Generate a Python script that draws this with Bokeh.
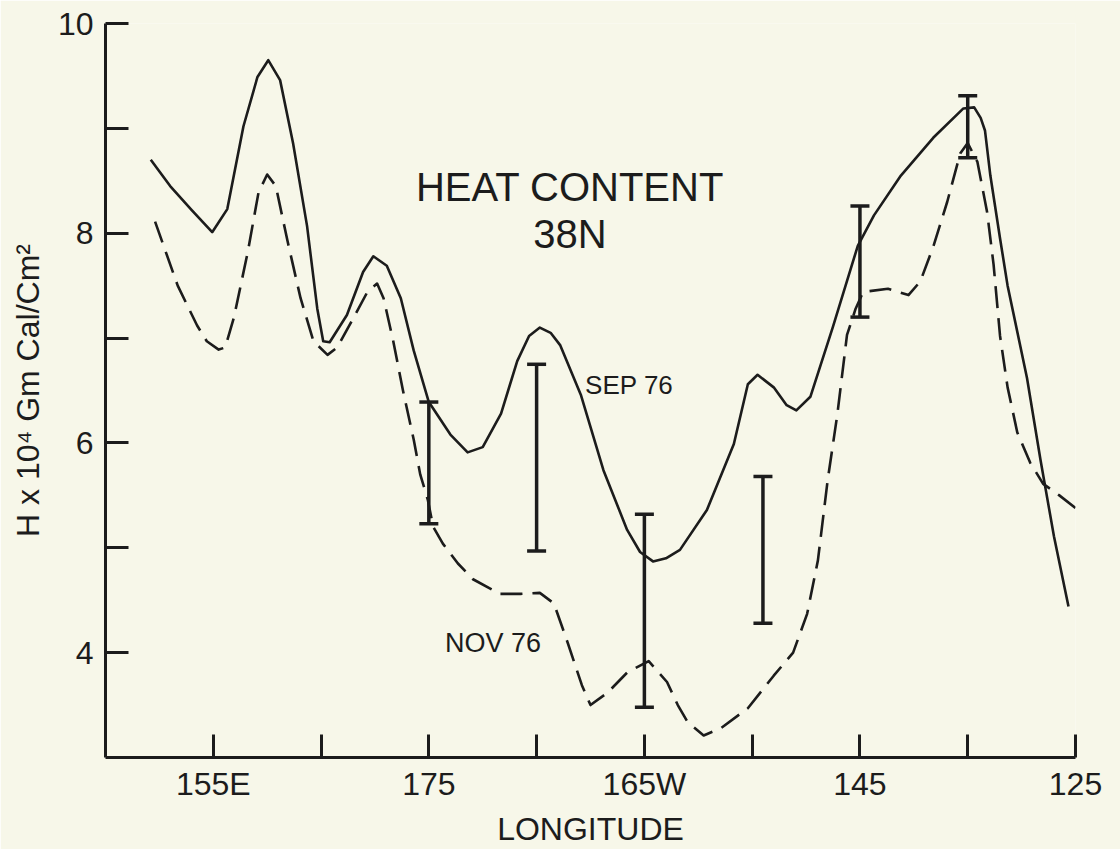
from bokeh.plotting import figure
from bokeh.models import Range1d, FixedTicker, Whisker, TeeHead, ColumnDataSource, Label
from bokeh.embed import file_html
from bokeh.resources import INLINE

# ---- data (longitude in degrees east, 180+ = west) ----
sep_lon = [149.2, 151.0, 153.0, 154.9, 156.3, 157.8, 159.1, 160.1, 161.2, 162.4, 163.7, 164.65,
           165.2, 165.8, 167.4, 168.9, 169.85, 171.1, 172.4, 173.6, 175.0, 177.0, 178.6, 180.0,
           181.7, 183.2, 184.3, 185.3, 186.3, 187.2, 189.1, 191.2, 193.4, 194.6, 195.8, 197.0,
           198.3, 200.8, 203.3, 204.6, 205.5, 207.0, 208.2, 209.1, 210.4, 212.5, 214.8, 216.3,
           218.8, 221.8, 224.6, 225.6, 226.2, 226.6, 227.1, 228.0, 228.7, 230.5, 231.75, 233.0, 234.35]
sep_val = [8.70, 8.45, 8.22, 8.01, 8.23, 9.02, 9.49, 9.65, 9.46, 8.86, 8.07, 7.28,
           6.97, 6.96, 7.22, 7.63, 7.78, 7.69, 7.38, 6.88, 6.39, 6.08, 5.91, 5.96,
           6.28, 6.78, 7.02, 7.10, 7.05, 6.93, 6.46, 5.74, 5.17, 4.96, 4.87, 4.90,
           4.98, 5.36, 5.99, 6.56, 6.65, 6.53, 6.36, 6.31, 6.44, 7.11, 7.88, 8.17,
           8.55, 8.91, 9.19, 9.20, 9.10, 8.98, 8.55, 7.95, 7.50, 6.62, 5.84, 5.11, 4.44]

nov_lon = [149.6, 151.7, 153.5, 154.4, 155.5, 156.1, 156.9, 158.2, 159.2, 160.0, 160.8, 161.9,
           163.1, 164.3, 165.6, 166.5, 168.0, 169.3, 170.2, 170.8, 171.7, 172.6, 173.6, 174.2,
           174.9, 175.4, 176.3, 177.7, 179.1, 181.6, 183.5, 185.3, 186.6, 187.9, 189.2, 190.0,
           191.6, 193.4, 195.4, 197.1, 198.1, 199.0, 200.5, 202.1, 204.6, 207.0, 208.8, 210.1,
           211.1, 212.0, 212.9, 213.8, 214.6, 215.3, 217.6, 219.5, 220.6, 221.8, 223.1, 224.3,
           225.0, 225.9, 226.8, 227.4, 228.0, 228.7, 229.6, 230.8, 232.0, 233.5, 235.0]
nov_val = [8.11, 7.50, 7.12, 6.97, 6.89, 6.91, 7.19, 7.82, 8.39, 8.56, 8.45, 7.92,
           7.38, 6.97, 6.84, 6.91, 7.19, 7.44, 7.52, 7.38, 6.97, 6.50, 6.03, 5.70,
           5.46, 5.20, 5.04, 4.85, 4.70, 4.56, 4.56, 4.57, 4.47, 4.09, 3.69, 3.50,
           3.62, 3.81, 3.92, 3.72, 3.50, 3.34, 3.21, 3.28, 3.47, 3.78, 4.00, 4.37,
           4.88, 5.64, 6.27, 7.03, 7.28, 7.44, 7.47, 7.41, 7.54, 7.87, 8.30, 8.76,
           8.86, 8.68, 8.20, 7.70, 7.02, 6.53, 6.10, 5.81, 5.61, 5.50, 5.38]

bar_lon = [175, 185, 195, 206, 215, 225]
bar_hi = [6.39, 6.75, 5.32, 5.68, 8.26, 9.31]
bar_lo = [5.23, 4.97, 3.48, 4.28, 7.20, 8.72]

x_tick_values = [155, 165, 175, 185, 195, 205, 215, 225, 235]
x_tick_labels = ["155E", "", "175", "", "165W", "", "145", "", "125"]
y_tick_values = [4, 5, 6, 7, 8, 9, 10]
y_tick_labels = ["4", "", "6", "", "8", "", "10"]

title_lines = ["HEAT CONTENT", "38N"]
series_names = ["SEP 76", "NOV 76"]
x_label = "LONGITUDE"
y_label = "H x 10\u2074 Gm Cal/Cm\u00b2"

# ---- style ----
ink = "#1c1c1c"
paper = "#f7f7e9"
font = "Liberation Sans"

p = figure(width=1120, height=849, x_range=Range1d(145, 235), y_range=Range1d(3, 10),
           output_backend="svg", toolbar_location=None,
           min_border_left=105, min_border_right=45, min_border_top=23, min_border_bottom=89)
p.background_fill_color = paper
p.border_fill_color = paper
p.outline_line_color = None
p.grid.visible = False

for ax in (p.xaxis[0], p.yaxis[0]):
    ax.axis_line_color = ink
    ax.axis_line_width = 3
    ax.major_tick_line_color = ink
    ax.major_tick_line_width = 3
    ax.major_tick_in = 23
    ax.major_tick_out = 0
    ax.minor_tick_line_color = None
    ax.major_label_text_color = ink
    ax.major_label_text_font = font
    ax.major_label_text_font_size = "32px"
    ax.axis_label_text_color = ink
    ax.axis_label_text_font = font
    ax.axis_label_text_font_style = "normal"

p.xaxis.ticker = FixedTicker(ticks=x_tick_values)
p.xaxis.major_label_overrides = {v: s for v, s in zip(x_tick_values, x_tick_labels)}
p.xaxis.major_label_standoff = 8
p.xaxis.axis_label = x_label
p.xaxis.axis_label_text_font_size = "32px"
p.xaxis.axis_label_standoff = 6

p.yaxis.ticker = FixedTicker(ticks=y_tick_values)
p.yaxis.major_label_overrides = {v: s for v, s in zip(y_tick_values, y_tick_labels)}
p.yaxis.major_label_standoff = 12
p.yaxis.axis_label = y_label
p.yaxis.axis_label_text_font_size = "32px"
p.yaxis.axis_label_standoff = 9

p.line(sep_lon, sep_val, line_color=ink, line_width=2.6, line_join="round")
p.line(nov_lon, nov_val, line_color=ink, line_width=2.6, line_dash="22 10", line_join="round")

src = ColumnDataSource(dict(base=bar_lon, upper=bar_hi, lower=bar_lo))
p.add_layout(Whisker(base="base", upper="upper", lower="lower", source=src,
                     line_color=ink, line_width=3.5,
                     upper_head=TeeHead(size=19, line_width=3.5, line_color=ink),
                     lower_head=TeeHead(size=19, line_width=3.5, line_color=ink)))

p.add_layout(Label(x=188.1, y=8.44, text=title_lines[0], text_align="center",
                   text_baseline="alphabetic", text_font=font, text_font_size="40px",
                   text_color=ink))
p.add_layout(Label(x=188.1, y=7.99, text=title_lines[1], text_align="center",
                   text_baseline="alphabetic", text_font=font, text_font_size="40px",
                   text_color=ink))
p.add_layout(Label(x=189.5, y=6.55, text=series_names[0], text_align="left",
                   text_baseline="alphabetic", text_font=font, text_font_size="26px",
                   text_color=ink))
p.add_layout(Label(x=176.5, y=4.09, text=series_names[1], text_align="left",
                   text_baseline="alphabetic", text_font=font, text_font_size="27px",
                   text_color=ink))

open("out.html", "w").write(file_html(p, INLINE))
